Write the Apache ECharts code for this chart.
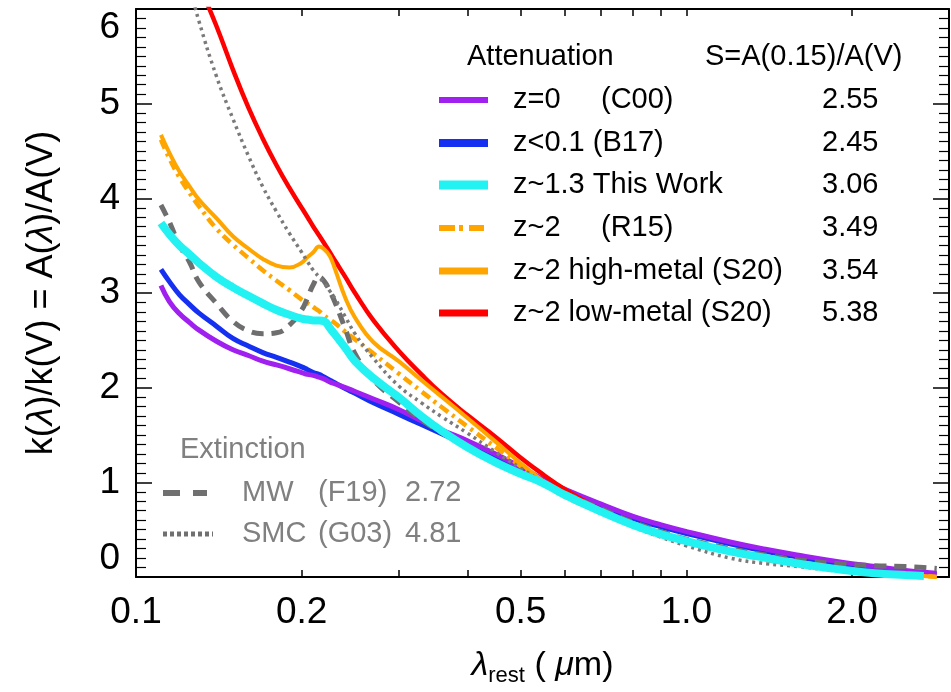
<!DOCTYPE html>
<html>
<head>
<meta charset="utf-8">
<script src="https://cdn.jsdelivr.net/npm/echarts@6/dist/echarts.min.js"></script>
<style>
  html, body { margin: 0; padding: 0; background: #fff; }
  #chart { width: 951px; height: 692px; }
</style>
</head>
<body>
<div id="chart"></div>
<script>
// rest-frame wavelength grid (micron), shared by all curves
const wavelength = [0.111, 0.115, 0.12, 0.125, 0.13, 0.14, 0.15, 0.16, 0.17, 0.18, 0.19, 0.2, 0.205, 0.21, 0.215, 0.22, 0.225, 0.23, 0.24, 0.25, 0.27, 0.3, 0.33, 0.36, 0.4, 0.45, 0.5, 0.55, 0.6, 0.7, 0.8, 0.9, 1.0, 1.2, 1.4, 1.6, 1.9, 2.2, 2.5, 2.7, 2.85];

// attenuation curves A(lambda)/A(V)
const c00 = [3.08, 2.91, 2.78, 2.69, 2.61, 2.49, 2.40, 2.34, 2.28, 2.24, 2.20, 2.16, 2.14, 2.13, 2.11, 2.09, 2.06, 2.04, 2.00, 1.96, 1.88, 1.77, 1.65, 1.55, 1.44, 1.30, 1.16, 1.03, 0.93, 0.77, 0.64, 0.55, 0.48, 0.37, 0.29, 0.23, 0.16, 0.11, 0.07, 0.05, 0.04];
const b17 = [3.25, 3.12, 2.98, 2.88, 2.79, 2.65, 2.52, 2.44, 2.37, 2.32, 2.27, 2.22, 2.19, 2.16, 2.14, 2.11, 2.08, 2.05, 1.99, 1.94, 1.84, 1.72, 1.61, 1.51, 1.39, 1.25, 1.12, 1.01, 0.91, 0.75, 0.62, 0.53, 0.46, 0.35, 0.27, 0.21, 0.14, 0.09, 0.06, 0.04, 0.03];
const thisWork = [3.74, 3.62, 3.50, 3.41, 3.32, 3.17, 3.06, 2.97, 2.89, 2.82, 2.77, 2.73, 2.72, 2.71, 2.71, 2.70, 2.63, 2.56, 2.42, 2.28, 2.10, 1.90, 1.70, 1.54, 1.37, 1.21, 1.09, 0.99, 0.87, 0.69, 0.55, 0.45, 0.38, 0.27, 0.20, 0.14, 0.08, 0.04, 0.02, 0.01, null];
const r15 = [4.62, 4.42, 4.22, 4.06, 3.92, 3.68, 3.51, 3.37, 3.24, 3.13, 3.03, 2.93, 2.89, 2.85, 2.81, 2.76, 2.72, 2.68, 2.59, 2.51, 2.36, 2.15, 1.96, 1.79, 1.59, 1.37, 1.17, 1.00, 0.85, 0.69, 0.55, 0.45, 0.37, 0.26, 0.18, 0.13, 0.08, 0.04, 0.02, 0.01, 0.00];
const s20High = [4.67, 4.48, 4.28, 4.13, 3.99, 3.79, 3.60, 3.47, 3.36, 3.29, 3.27, 3.32, 3.38, 3.43, 3.49, 3.46, 3.39, 3.25, 2.95, 2.74, 2.48, 2.28, 2.08, 1.90, 1.68, 1.43, 1.20, 1.01, 0.86, 0.69, 0.55, 0.45, 0.37, 0.26, 0.19, 0.13, 0.08, 0.04, 0.02, 0.01, 0.00];
const s20Low = [7.35, 7.10, 6.80, 6.52, 6.27, 5.82, 5.36, 4.96, 4.63, 4.35, 4.11, 3.90, 3.80, 3.70, 3.61, 3.52, 3.43, 3.34, 3.17, 3.00, 2.71, 2.39, 2.14, 1.93, 1.71, 1.48, 1.26, 1.08, 0.93, 0.71, 0.56, 0.46, 0.38, 0.26, 0.19, 0.13, 0.08, 0.04, 0.02, 0.01, null];

// extinction curves
const mwF19 = [3.93, 3.75, 3.50, 3.33, 3.12, 2.89, 2.70, 2.60, 2.57, 2.58, 2.66, 2.82, 2.95, 3.09, 3.17, 3.12, 3.02, 2.90, 2.62, 2.36, 2.08, 1.85, 1.66, 1.52, 1.37, 1.22, 1.10, 1.00, 0.89, 0.72, 0.58, 0.48, 0.40, 0.30, 0.23, 0.18, 0.14, 0.12, 0.11, 0.10, 0.09];
const smcG03 = [7.30, 7.00, 6.60, 6.25, 5.88, 5.29, 4.84, 4.45, 4.12, 3.86, 3.63, 3.43, 3.33, 3.24, 3.17, 3.10, 3.02, 2.94, 2.75, 2.57, 2.31, 2.02, 1.84, 1.69, 1.52, 1.32, 1.15, 1.00, 0.87, 0.68, 0.53, 0.42, 0.33, 0.20, 0.14, 0.11, 0.06, 0.02, null, null, null];

// x axis ticks / labels (micron)
const labelWaves = [0.1, 0.2, 0.5, 1.0, 2.0];
const labelTexts = ['0.1', '0.2', '0.5', '1.0', '2.0'];
const tickWaves = [0.2, 0.3, 0.4, 0.5, 0.6, 0.7, 0.8, 0.9, 1.0, 2.0];

// legend contents
const attenLabels = ['z=0', 'z<0.1 (B17)', 'z~1.3 This Work', 'z~2', 'z~2 high-metal (S20)', 'z~2 low-metal (S20)'];
const attenRefs = ['(C00)', '', '', '(R15)', '', ''];
const attenS = ['2.55', '2.45', '3.06', '3.49', '3.54', '5.38'];
const extLabels = ['MW', 'SMC'];
const extRefs = ['(F19)', '(G03)'];
const extS = ['2.72', '4.81'];

const FONT = '"Liberation Sans", Arial, Helvetica, sans-serif';
const chart = echarts.init(document.getElementById('chart'));

const X_MIN = Math.log10(0.1);
const X_MAX = Math.log10(3.0);
const pts = vals => wavelength.map((w, i) => [Math.log10(w), vals[i]]);

// drawing order: later is on top
const curves = [
  { data: b17, color: '#1530f0', width: 5 },
  { data: c00, color: '#a020f0', width: 5 },
  { data: s20Low, color: '#ff0000', width: 4.5 },
  { data: r15, color: '#ffa500', width: 4.5, dash: [10, 5, 3, 5] },
  { data: s20High, color: '#ffa500', width: 4 },
  { data: mwF19, color: '#6e6e6e', width: 5, dash: [12, 8] },
  { data: smcG03, color: '#7a7a7a', width: 3.5, dash: [3, 4] },
  { data: thisWork, color: '#22f2f2', width: 8 }
];

const series = curves.map(c => ({
  type: 'line',
  data: pts(c.data),
  showSymbol: false,
  smooth: 0.45,
  lineStyle: { color: c.color, width: c.width, type: c.dash || 'solid', cap: 'butt' },
  silent: true
}));

// legend graphics
const legendColors = ['#a020f0', '#1530f0', '#22f2f2', '#ffa500', '#ffa500', '#ff0000'];
const legendWidths = [6, 8, 9, 6, 7, 7];
const legendY = [100, 143, 185, 228, 271, 313];
const txt = (x, y, text, color) => ({
  type: 'text', x: x, y: y,
  style: { text: text, font: '29px ' + FONT, fill: color || '#000', textVerticalAlign: 'middle', verticalAlign: 'middle' }
});
const graphics = [
  txt(467, 57, 'Attenuation'),
  txt(705, 57, 'S=A(0.15)/A(V)')
];
attenLabels.forEach((lab, i) => {
  const y = legendY[i];
  graphics.push({
    type: 'line',
    shape: { x1: 439, y1: y, x2: i === 3 ? 484 : 488, y2: y },
    style: { stroke: legendColors[i], lineWidth: legendWidths[i], lineDash: i === 3 ? [16, 4, 4, 6] : null }
  });
  graphics.push(txt(513, y, lab));
  if (attenRefs[i]) graphics.push(txt(601, y, attenRefs[i]));
  graphics.push(txt(822, y, attenS[i]));
});
graphics.push(txt(180, 450, 'Extinction', '#808080'));
const extY = [493, 534];
extLabels.forEach((lab, i) => {
  const y = extY[i];
  graphics.push({
    type: 'line',
    shape: { x1: 163, y1: y, x2: i === 0 ? 207 : 213, y2: y },
    style: { stroke: '#707070', lineWidth: i === 0 ? 6 : 5, lineDash: i === 0 ? [17, 13] : [4, 3] }
  });
  graphics.push(txt(242, y, lab, '#808080'));
  graphics.push(txt(318, y, extRefs[i], '#808080'));
  graphics.push(txt(405, y, extS[i], '#808080'));
});

const axisLine = { show: true, onZero: false, lineStyle: { color: '#000', width: 2 } };
const xTick = { show: true, inside: true, length: 7, customValues: tickWaves.map(Math.log10), lineStyle: { color: '#000', width: 1.5 } };
const yTick = { show: true, inside: true, length: 16, lineStyle: { color: '#000', width: 1.5 } };
const yMinor = { show: true, splitNumber: 10, length: 10, lineStyle: { color: '#000', width: 1.2 } };

const option = {
  animation: false,
  backgroundColor: '#fff',
  grid: { left: 136, right: 2, top: 9, bottom: 109, containLabel: false },
  xAxis: [
    {
      type: 'value', position: 'bottom', min: X_MIN, max: X_MAX,
      axisLine: axisLine, axisTick: xTick, splitLine: { show: false },
      axisLabel: {
        fontSize: 37, fontFamily: FONT, color: '#000', margin: 17,
        customValues: labelWaves.map(Math.log10),
        formatter: v => {
          const i = labelWaves.findIndex(w => Math.abs(Math.log10(w) - v) < 1e-6);
          return i >= 0 ? labelTexts[i] : '';
        }
      },
      name: '{l|λ}{s|rest}{n| ( }{l|μ}{n|m)}',
      nameLocation: 'middle', nameGap: 68,
      nameTextStyle: {
        fontFamily: FONT, color: '#000', fontSize: 34,
        rich: {
          l: { fontSize: 34, fontFamily: FONT, fontStyle: 'italic', color: '#000' },
          s: { fontSize: 22, fontFamily: FONT, color: '#000', padding: [20, 0, 0, 0] },
          n: { fontSize: 34, fontFamily: FONT, color: '#000' }
        }
      }
    },
    {
      type: 'value', position: 'top', min: X_MIN, max: X_MAX,
      axisLine: axisLine, axisTick: xTick, axisLabel: { show: false }, splitLine: { show: false }
    }
  ],
  yAxis: [
    {
      type: 'value', position: 'left', min: 0, max: 6, interval: 1,
      axisLine: axisLine, axisTick: yTick, minorTick: yMinor,
      splitLine: { show: false }, minorSplitLine: { show: false },
      axisLabel: {
        fontSize: 37, fontFamily: FONT, color: '#000', margin: 16,
        verticalAlignMaxLabel: 'top', verticalAlignMinLabel: 'bottom'
      },
      name: 'k({i|λ})/k(V) = A({i|λ})/A(V)',
      nameLocation: 'middle', nameGap: 76, nameRotate: 90,
      nameTextStyle: {
        fontFamily: FONT, color: '#000', fontSize: 36,
        rich: { i: { fontSize: 36, fontFamily: FONT, fontStyle: 'italic', color: '#000' } }
      }
    },
    {
      type: 'value', position: 'right', min: 0, max: 6, interval: 1,
      axisLine: axisLine, axisTick: yTick, minorTick: yMinor,
      splitLine: { show: false }, minorSplitLine: { show: false },
      axisLabel: { show: false }
    }
  ],
  series: series,
  graphic: graphics
};

chart.setOption(option);
</script>
</body>
</html>
